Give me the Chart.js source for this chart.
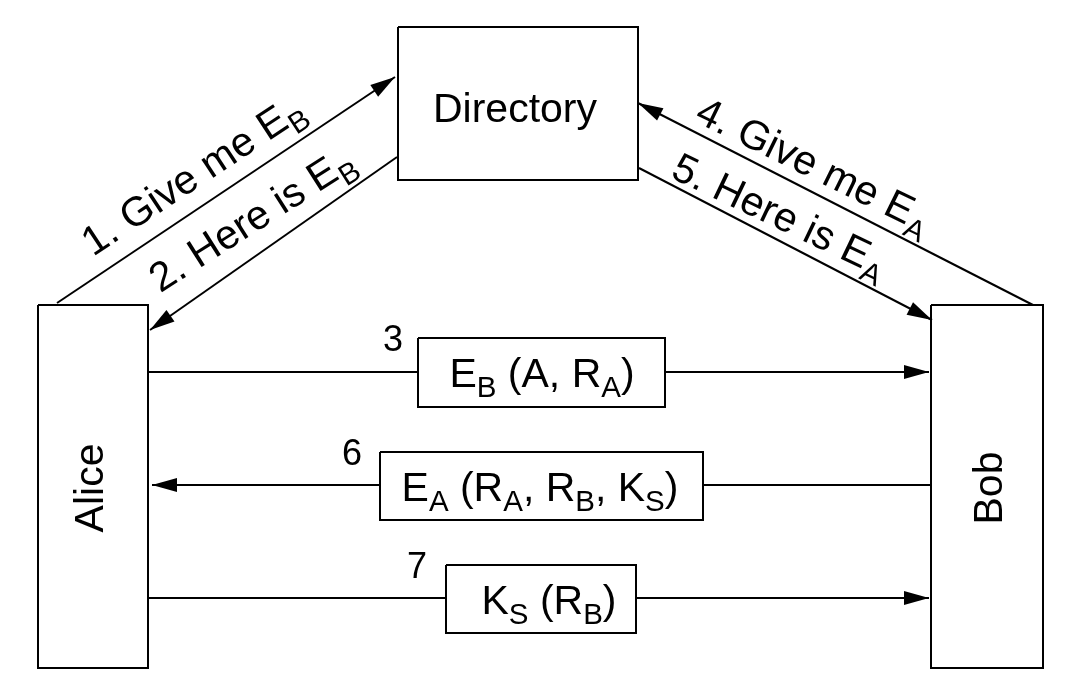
<!DOCTYPE html>
<html>
<head>
<meta charset="utf-8">
<script src="https://cdn.jsdelivr.net/npm/chart.js@4.4.1/dist/chart.umd.min.js"></script>
<style>
html, body { margin: 0; padding: 0; background: #fff; }
#wrap { position: relative; width: 1080px; height: 697px; }
</style>
</head>
<body>
<div id="wrap"><canvas id="diagram"></canvas></div>
<script>
// parties
const nodeNames = ['Directory', 'Alice', 'Bob'];
const nodeLeft = [398, 38, 931];
const nodeRight = [638, 148, 1043];
const nodeTop = [27, 305, 305];
const nodeBottom = [180, 668, 668];
const nodeLabelX = [515, 88, 987];
const nodeLabelY = [107, 488, 488];
const nodeAngle = [0, -90, -90];

// message arrows (steps 1, 2, 4, 5, 3, 6, 7)
const arrowFromX = [57, 397, 1033, 639, 148, 931, 148];
const arrowFromY = [303, 157, 305, 168, 372, 485, 598];
const arrowToX = [395, 150, 638, 932, 929, 152, 929];
const arrowToY = [77, 330, 103, 320, 372, 485, 598];

// labels on the diagonal arrows
const stepLabels = ['1. Give me E_B', '2. Here is E_B', '4. Give me E_A', '5. Here is E_A'];
const stepX = [192, 251, 815, 781];
const stepY = [174, 218, 164, 214];
const stepAngle = [-33.4, -32.5, 26.1, 25.5];

// boxed messages on the horizontal arrows
const msgNumbers = ['3', '6', '7'];
const msgTexts = ['E_B (A, R_A)', 'E_A (R_A, R_B, K_S)', 'K_S (R_B)'];
const msgLeft = [418, 380, 446];
const msgRight = [665, 703, 636];
const msgTop = [338, 452, 565];
const msgBottom = [407, 520, 633];
const msgTextX = [542, 540, 549];
const numX = [393, 352, 417];
const numY = [338, 452, 565];

const FONT = '"Liberation Sans", Arial, Helvetica, sans-serif';

function rect(l, r, t, b) {
    return [{x: l, y: t}, {x: r, y: t}, {x: r, y: b}, {x: l, y: b}, {x: l, y: t}];
}

const datasets = [];
msgTexts.forEach((m, i) => {
    datasets.push({
        label: 'msg ' + msgNumbers[i],
        data: rect(msgLeft[i], msgRight[i], msgTop[i], msgBottom[i]),
        fill: 'shape',
        backgroundColor: '#ffffff'
    });
});
nodeNames.forEach((n, i) => {
    datasets.push({
        label: n,
        data: rect(nodeLeft[i], nodeRight[i], nodeTop[i], nodeBottom[i]),
        fill: false
    });
});
arrowFromX.forEach((x, i) => {
    datasets.push({
        label: 'arrow ' + i,
        data: [{x: x, y: arrowFromY[i]}, {x: arrowToX[i], y: arrowToY[i]}],
        fill: false
    });
});
datasets.forEach(d => {
    d.showLine = true;
    d.borderColor = '#000';
    d.borderWidth = 2;
    d.pointRadius = 0;
    d.borderJoinStyle = 'miter';
    d.tension = 0;
});

// text with single-letter subscripts written as X_Y
function drawRich(ctx, text, cx, cy, angle, size) {
    const runs = [];
    for (let i = 0; i < text.length; i++) {
        if (text[i] === '_') {
            runs.push({t: text[i + 1], sub: true});
            i++;
        } else if (runs.length && !runs[runs.length - 1].sub) {
            runs[runs.length - 1].t += text[i];
        } else {
            runs.push({t: text[i], sub: false});
        }
    }
    const subSize = size * 0.72;
    let total = 0;
    runs.forEach(r => {
        ctx.font = (r.sub ? subSize : size) + 'px ' + FONT;
        r.w = ctx.measureText(r.t).width;
        total += r.w;
    });
    ctx.save();
    ctx.translate(cx, cy);
    ctx.rotate(angle * Math.PI / 180);
    ctx.fillStyle = '#000';
    ctx.textAlign = 'left';
    ctx.textBaseline = 'alphabetic';
    let x = -total / 2;
    const base = size * 0.716 / 2;
    runs.forEach(r => {
        ctx.font = (r.sub ? subSize : size) + 'px ' + FONT;
        ctx.fillText(r.t, x, base + (r.sub ? size * 0.25 : 0));
        x += r.w;
    });
    ctx.restore();
}

const diagramText = {
    id: 'diagramText',
    afterDatasetsDraw(chart) {
        const ctx = chart.ctx;
        const xs = chart.scales.x;
        const ys = chart.scales.y;
        // arrow heads
        arrowToX.forEach((tx, i) => {
            const x1 = xs.getPixelForValue(tx), y1 = ys.getPixelForValue(arrowToY[i]);
            const x0 = xs.getPixelForValue(arrowFromX[i]), y0 = ys.getPixelForValue(arrowFromY[i]);
            const a = Math.atan2(y1 - y0, x1 - x0);
            const len = 25, half = 7;
            ctx.save();
            ctx.fillStyle = '#000';
            ctx.beginPath();
            ctx.moveTo(x1, y1);
            ctx.lineTo(x1 - len * Math.cos(a) + half * Math.sin(a), y1 - len * Math.sin(a) - half * Math.cos(a));
            ctx.lineTo(x1 - len * Math.cos(a) - half * Math.sin(a), y1 - len * Math.sin(a) + half * Math.cos(a));
            ctx.closePath();
            ctx.fill();
            ctx.restore();
        });
        nodeNames.forEach((n, i) => {
            drawRich(ctx, n, xs.getPixelForValue(nodeLabelX[i]), ys.getPixelForValue(nodeLabelY[i]), nodeAngle[i], 41);
        });
        stepLabels.forEach((s, i) => {
            drawRich(ctx, s, xs.getPixelForValue(stepX[i]), ys.getPixelForValue(stepY[i]), stepAngle[i], 41);
        });
        msgTexts.forEach((m, i) => {
            const cy = (msgTop[i] + msgBottom[i]) / 2;
            drawRich(ctx, m, xs.getPixelForValue(msgTextX[i]), ys.getPixelForValue(cy), 0, 41);
            drawRich(ctx, msgNumbers[i], xs.getPixelForValue(numX[i]), ys.getPixelForValue(numY[i]), 0, 36);
        });
    }
};

new Chart(document.getElementById('diagram').getContext('2d'), {
    type: 'scatter',
    data: {datasets: datasets},
    options: {
        responsive: true,
        maintainAspectRatio: false,
        animation: false,
        layout: {padding: 0},
        scales: {
            x: {type: 'linear', min: 0, max: 1080, display: false},
            y: {type: 'linear', min: 0, max: 697, reverse: true, display: false}
        },
        plugins: {
            legend: {display: false},
            tooltip: {enabled: false}
        }
    },
    plugins: [diagramText]
});
</script>
</body>
</html>
